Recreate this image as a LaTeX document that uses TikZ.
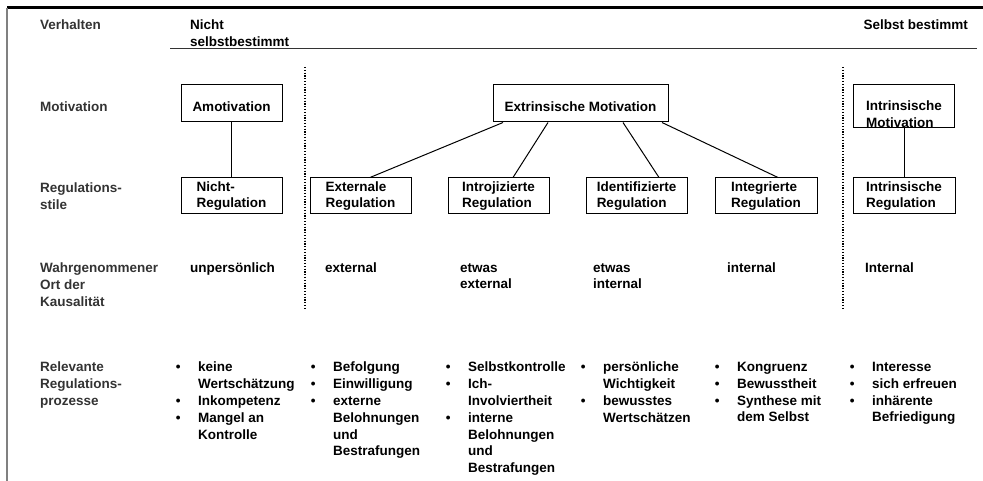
\documentclass[tikz,border=0pt]{standalone}
\usepackage{fontspec}
\setmainfont{Liberation Sans}
\newcommand{\bul}{\llap{\textbullet\hspace{17.5pt}}}% Aufzaehlungspunkt
\tikzset{
	schrift/.style = {font=\fontsize{13.5}{16.8}\selectfont\bfseries},
	zeile/.style = {schrift, anchor=north west, align=left, inner sep=0pt,
		text=black!80},% Zeilenbeschriftung links
	txt/.style = {zeile, text=black},% Text in den Spalten
	kasten/.style = {schrift, draw=black, line width=1pt, align=left, inner sep=0pt,
		minimum width=101pt, minimum height=36pt},% Regulationsstil
	kasten1/.style = {kasten, minimum height=37pt, text height=17pt},% Motivation
	verb/.style = {line width=1pt},% Verbindung
	trenn/.style = {line width=1.2pt, dash pattern=on 1.2pt off 1.6pt}% Trennlinie
}
\begin{document}
\begin{tikzpicture}[x=1pt,y=-1pt]
\useasboundingbox (0,0) rectangle (983,481);
\draw[line width=3pt] (7,8) -- (983,8);
\draw[gray, line width=1.3pt] (7,8) -- (7,481);
\draw[black!80, line width=1.3pt] (170,48.5) -- (977,48.5);
\draw[trenn] (305,67) -- (305,308);
\draw[trenn] (843,67) -- (843,308);
% Zeilen
\node[zeile] (verh) at (40,20) {Verhalten};
\node[zeile] (mot) at (40,102) {Motivation};
\node[zeile] (stil) at (40,183) {Regulations-\\stile};
\node[zeile] (ort) at (40,263) {Wahrgenommener\\Ort der\\Kausalität};
\node[zeile] (proz) at (40,362) {Relevante\\Regulations-\\prozesse};
\node[txt] (nsb) at (190,20) {Nicht\\selbstbestimmt};
\node[txt, anchor=north east] (sb) at (968,20) {Selbst bestimmt};
% Kaesten
\node[kasten1] (am) at (231.5,103.5) {Amotivation};
\node[kasten1, minimum width=175pt] (em) at (580.5,103.5) {Extrinsische Motivation};
\node[kasten, minimum height=43pt] (im) at (904,106.5)
	{\raisebox{-4.5pt}[0pt][0pt]{\begin{tabular}[t]{@{}l@{}}Intrinsische\\Motivation\end{tabular}}};
\node[kasten] (nr) at (231.5,196) {Nicht-\\Regulation};
\node[kasten] (er) at (360.5,196) {Externale\\Regulation};
\node[kasten] (ir) at (498.5,196) {Introjizierte\\Regulation};
\node[kasten] (idr) at (636.5,196) {Identifizierte\\Regulation};
\node[kasten, minimum width=102pt] (igr) at (766,196) {Integrierte\\Regulation};
\node[kasten, minimum width=102pt] (inr) at (904,196) {Intrinsische\\Regulation};
\draw[verb] (am) -- (nr);
\draw[verb] ([xshift=-77.5pt]em.south) -- ([xshift=9.5pt]er.north);
\draw[verb] ([xshift=-32.5pt]em.south) -- ([xshift=14.5pt]ir.north);
\draw[verb] ([xshift=42.5pt]em.south) -- ([xshift=22.5pt]idr.north);
\draw[verb] ([xshift=81.5pt]em.south) -- ([xshift=12pt]igr.north);
\draw[verb] (im) -- (inr);
% Ort der Kausalitaet
\node[txt] (o1) at (190,263) {unpersönlich};
\node[txt] (o2) at (325,263) {external};
\node[txt] (o3) at (460,263) {etwas\\external};
\node[txt] (o4) at (593,263) {etwas\\internal};
\node[txt] (o5) at (727,263) {internal};
\node[txt] (o6) at (865,263) {Internal};
% Regulationsprozesse
\node[txt] (p1) at (198,362) {\bul keine\\Wertschätzung\\\bul Inkompetenz\\\bul Mangel an\\Kontrolle};
\node[txt] (p2) at (333,362) {\bul Befolgung\\\bul Einwilligung\\\bul externe\\Belohnungen\\und\\Bestrafungen};
\node[txt] (p3) at (468,362) {\bul Selbstkontrolle\\\bul Ich-\\Involviertheit\\\bul interne\\Belohnungen\\und\\Bestrafungen};
\node[txt] (p4) at (603,362) {\bul persönliche\\Wichtigkeit\\\bul bewusstes\\Wertschätzen};
\node[txt] (p5) at (737,362) {\bul Kongruenz\\\bul Bewusstheit\\\bul Synthese mit\\dem Selbst};
\node[txt] (p6) at (872,362) {\bul Interesse\\\bul sich erfreuen\\\bul inhärente\\Befriedigung};
\end{tikzpicture}
\end{document}
